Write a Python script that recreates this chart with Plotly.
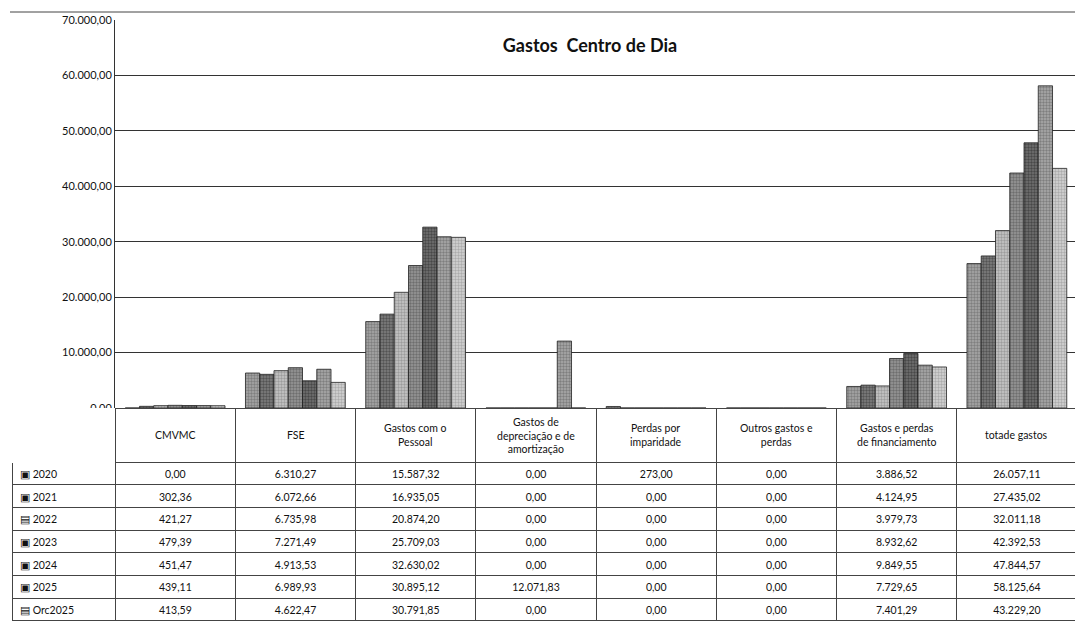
import plotly.graph_objects as go

categories = ["CMVMC", "FSE", "Gastos com o Pessoal",
              "Gastos de depreciação e de amortização", "Perdas por imparidade",
              "Outros gastos e perdas", "Gastos e perdas de financiamento",
              "totade gastos"]
header_labels = ["CMVMC", "FSE", "Gastos com o<br>Pessoal",
                 "Gastos de<br>depreciação e de<br>amortização", "Perdas por<br>imparidade",
                 "Outros gastos e<br>perdas", "Gastos e perdas<br>de financiamento",
                 "totade gastos"]

series_names = ["2020", "2021", "2022", "2023", "2024", "2025", "Orc2025"]
v2020 = [0.00, 6310.27, 15587.32, 0.00, 273.00, 0.00, 3886.52, 26057.11]
v2021 = [302.36, 6072.66, 16935.05, 0.00, 0.00, 0.00, 4124.95, 27435.02]
v2022 = [421.27, 6735.98, 20874.20, 0.00, 0.00, 0.00, 3979.73, 32011.18]
v2023 = [479.39, 7271.49, 25709.03, 0.00, 0.00, 0.00, 8932.62, 42392.53]
v2024 = [451.47, 4913.53, 32630.02, 0.00, 0.00, 0.00, 9849.55, 47844.57]
v2025 = [439.11, 6989.93, 30895.12, 12071.83, 0.00, 0.00, 7729.65, 58125.64]
orc2025 = [413.59, 4622.47, 30791.85, 0.00, 0.00, 0.00, 7401.29, 43229.20]
series_values = [v2020, v2021, v2022, v2023, v2024, v2025, orc2025]

# grey dithered look of the scanned excel chart
fg = ["#555555", "#262626", "#707070", "#444444", "#1e1e1e", "#505050", "#808080"]
bg = ["#a8a8a8", "#808080", "#c8c8c8", "#989898", "#727272", "#acacac", "#d6d6d6"]
keys = ["▣", "▣", "▤", "▣", "▣", "▣", "▤"]

FONT = "Lato, Open Sans, sans-serif"
# page body has an 8px margin, so the figure is a bit smaller than the window
W, H = 1075, 615
TBL_X = [4 / W, 1069 / W]
PLOT_Y = [1 - 400 / H, 1 - 12 / H]
FIRST_W, COL_W = 103, 120
HEADER_H = 54


def pt_num(v):
    s = f"{v:,.2f}"
    return s.replace(",", "X").replace(".", ",").replace("X", ".")


fig = go.Figure()
for name, vals, f, b in zip(series_names, series_values, fg, bg):
    fig.add_trace(go.Bar(
        x=categories, y=vals, name=name,
        marker=dict(color=b, line=dict(color="#222", width=0.8),
                    pattern=dict(shape=".", fgcolor=f, bgcolor=b, size=3, solidity=0.5)),
        showlegend=False,
    ))

first_col = [f"{k} {n}" for k, n in zip(keys, series_names)]
cols = [first_col] + [[pt_num(s[i]) for s in series_values] for i in range(len(categories))]

fig.add_trace(go.Table(
    domain=dict(x=TBL_X, y=[0, PLOT_Y[0]]),
    columnwidth=[FIRST_W] + [COL_W] * len(categories),
    header=dict(values=[""] * (len(categories) + 1), height=HEADER_H,
                align="center", fill_color="white",
                line=dict(color=["white"] + ["#444"] * len(categories), width=1)),
    cells=dict(values=cols, height=22.7,
               align=["left"] + ["center"] * len(categories),
               fill_color="white", line=dict(color="#444", width=1),
               font=dict(family=FONT, size=10.5, color="#111")),
))

# header texts, centred in each table column
total_w = FIRST_W + COL_W * len(categories)
annotations = []
for i, lab in enumerate(header_labels):
    frac = (FIRST_W + COL_W * i + COL_W / 2) / total_w
    annotations.append(dict(
        text=lab, xref="paper", yref="paper",
        x=TBL_X[0] + frac * (TBL_X[1] - TBL_X[0]),
        y=PLOT_Y[0] - (HEADER_H / 2) / H, xanchor="center", yanchor="middle",
        align="center", showarrow=False,
        font=dict(family=FONT, size=10.5, color="#111")))

fig.update_xaxes(domain=[107 / W, 1069 / W], showticklabels=False, showline=False,
                 showgrid=False, ticks="", automargin=False)
fig.update_yaxes(range=[0, 70000], dtick=10000, tickformat=",.2f",
                 showgrid=True, gridcolor="#333", gridwidth=1,
                 showline=True, linecolor="#333", linewidth=1,
                 zeroline=False, ticks="", ticklen=0, automargin=False,
                 tickfont=dict(family=FONT, size=11, color="#111"),
                 domain=PLOT_Y)

fig.update_layout(
    width=W, height=H,
    margin=dict(l=0, r=0, t=0, b=0, autoexpand=False),
    paper_bgcolor="white", plot_bgcolor="white",
    separators=",.",
    barmode="group", bargap=0.17, bargroupgap=0,
    title=dict(text="<b>Gastos  Centro de Dia</b>", x=582 / W, xanchor="center",
               y=1 - 38 / H, yanchor="middle",
               font=dict(family=FONT, size=18, color="#111")),
    annotations=annotations,
    shapes=[dict(type="line", xref="paper", yref="paper", x0=2 / W, x1=1,
                 y0=1 - 4 / H, y1=1 - 4 / H, line=dict(color="#444", width=1))],
)

fig.write_html("out.html")
